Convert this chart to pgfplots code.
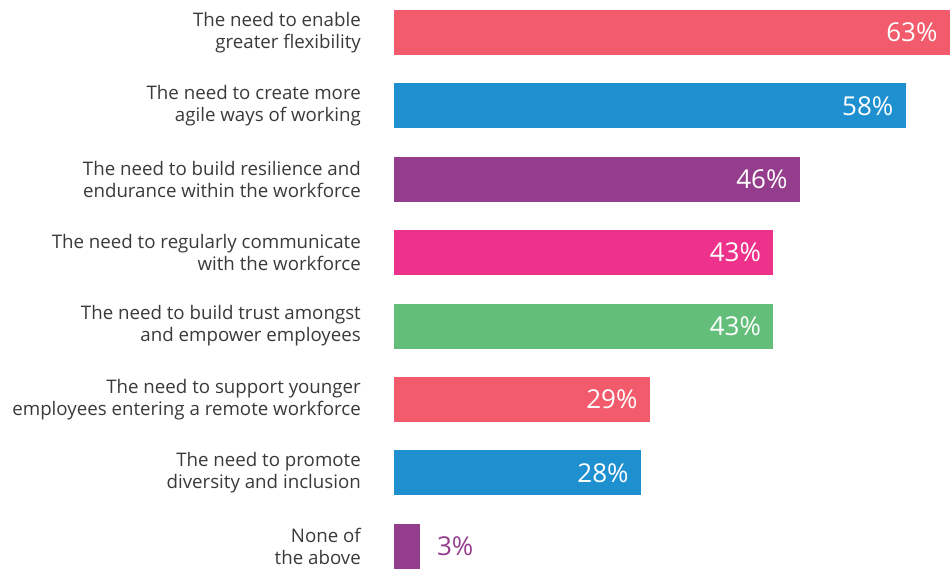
\documentclass[border=0pt]{standalone}
\usepackage{fontspec}
\setmainfont{Open Sans}
\usepackage{pgfplots}
\pgfplotsset{compat=1.18}

\definecolor{cred}{HTML}{F15B6C}
\definecolor{cblue}{HTML}{1E90D0}
\definecolor{cpurple}{HTML}{943D8C}
\definecolor{cpink}{HTML}{EE318A}
\definecolor{cgreen}{HTML}{63BE7A}
\definecolor{ctext}{HTML}{3A3A3A}

\begin{document}
\begin{tikzpicture}
\begin{axis}[
    scale only axis,
    width=556pt, height=569pt,
    xbar, bar width=45pt,
    xmin=0, xmax=63,
    ymin=-0.443, ymax=7.31,
    y dir=reverse,
    clip=false,
    axis line style={draw=none},
    major tick length=0pt,
    xtick=\empty,
    ytick={0,...,7},
    yticklabels={
        {The need to enable\\greater flexibility},
        {The need to create more\\agile ways of working},
        {The need to build resilience and\\endurance within the workforce},
        {The need to regularly communicate\\with the workforce},
        {The need to build trust amongst\\and empower employees},
        {The need to support younger\\employees entering a remote workforce},
        {The need to promote\\diversity and inclusion},
        {None of\\the above}},
    yticklabel style={align=right, inner sep=0pt, xshift=-33pt,
        text=ctext, font=\fontsize{18.7}{22}\selectfont},
    nodes near coords={\pgfmathprintnumber[assume math mode=true]{\pgfplotspointmeta}\%},
    every node near coord/.style={anchor=east, xshift=-9pt, text=white,
        font=\fontsize{26}{28}\selectfont},
]
\addplot[fill=cred, draw=none, bar shift=0pt] coordinates {(63,0)};
\addplot[fill=cblue, draw=none, bar shift=0pt] coordinates {(58,1)};
\addplot[fill=cpurple, draw=none, bar shift=0pt] coordinates {(46,2)};
\addplot[fill=cpink, draw=none, bar shift=0pt] coordinates {(43,3)};
\addplot[fill=cgreen, draw=none, bar shift=0pt] coordinates {(43,4)};
\addplot[fill=cred, draw=none, bar shift=0pt] coordinates {(29,5)};
\addplot[fill=cblue, draw=none, bar shift=0pt] coordinates {(28,6)};
\addplot[fill=cpurple, draw=none, bar shift=0pt,
    every node near coord/.style={anchor=west, xshift=13pt, text=cpurple,
        font=\fontsize{26}{28}\selectfont}] coordinates {(3,7)};
\end{axis}
\pgfresetboundingbox
\path ([xshift=-394pt]current axis.south west) rectangle (current axis.north east);
\end{tikzpicture}
\end{document}
